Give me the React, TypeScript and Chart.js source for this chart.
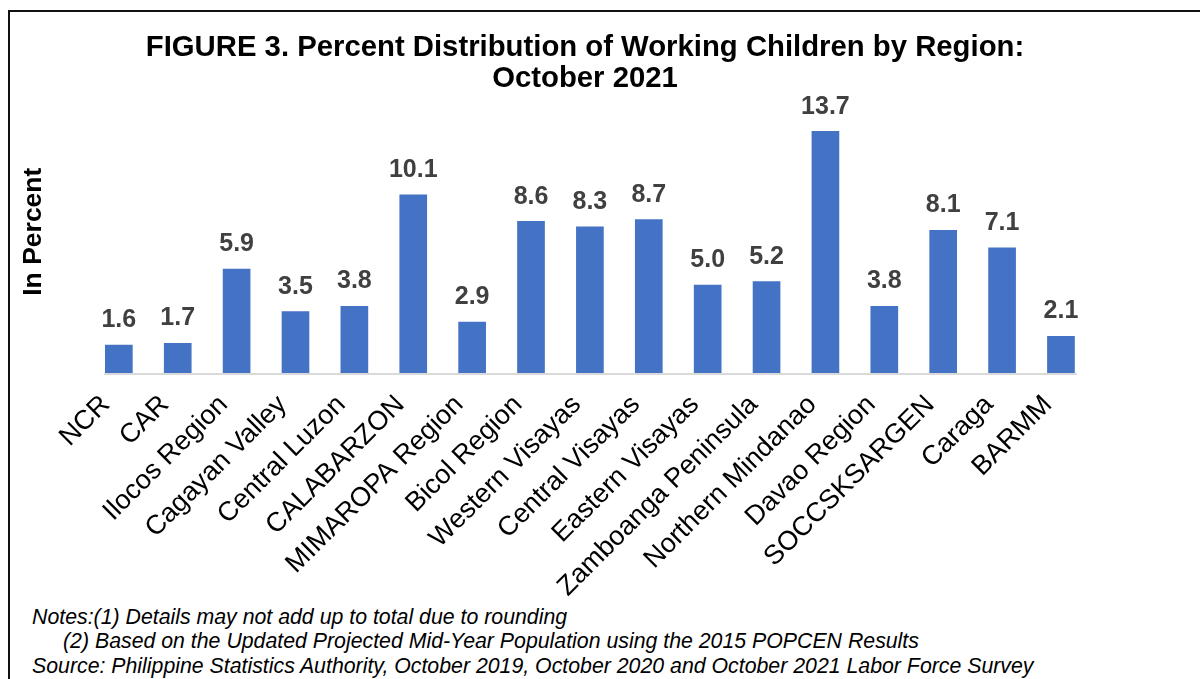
import React, { useEffect, useRef } from "react";
import { Chart, registerables } from "chart.js";

Chart.register(...registerables);

const categories: string[] = [
  "NCR",
  "CAR",
  "Ilocos Region",
  "Cagayan Valley",
  "Central Luzon",
  "CALABARZON",
  "MIMAROPA Region",
  "Bicol Region",
  "Western Visayas",
  "Central Visayas",
  "Eastern Visayas",
  "Zamboanga Peninsula",
  "Northern Mindanao",
  "Davao Region",
  "SOCCSKSARGEN",
  "Caraga",
  "BARMM",
];

const percentValues: number[] = [
  1.6, 1.7, 5.9, 3.5, 3.8, 10.1, 2.9, 8.6, 8.3, 8.7, 5.0, 5.2, 13.7, 3.8, 8.1, 7.1, 2.1,
];

const titleLines: string[] = [
  "FIGURE 3. Percent Distribution of Working Children by Region:",
  "October 2021",
];

const noteLines: string[] = [
  "Notes:(1) Details may not add up to total due to rounding",
  "(2) Based on the Updated Projected Mid-Year Population using the 2015 POPCEN Results",
  "Source: Philippine Statistics Authority, October 2019, October 2020 and October 2021 Labor Force Survey",
];

const FONT = "'Liberation Sans', Arial, Helvetica, sans-serif";
const CANVAS_W = 1170;
const CANVAS_H = 600;

const dataLabelPlugin = {
  id: "dataLabels",
  afterDatasetsDraw(chart: any) {
    const ctx = chart.ctx;
    const meta = chart.getDatasetMeta(0);
    ctx.save();
    ctx.font = `bold 25px ${FONT}`;
    ctx.fillStyle = "#404040";
    ctx.textAlign = "center";
    ctx.textBaseline = "alphabetic";
    meta.data.forEach((bar: any, i: number) => {
      const v = chart.data.datasets[0].data[i] as number;
      ctx.fillText(v.toFixed(1), bar.x, bar.y - 17.5);
    });
    ctx.restore();
  },
};

const baselinePlugin = {
  id: "baseline",
  afterDatasetsDraw(chart: any) {
    const ctx = chart.ctx;
    const meta = chart.getDatasetMeta(0);
    const first = meta.data[0];
    const last = meta.data[meta.data.length - 1];
    const y0 = chart.scales.y.getPixelForValue(0);
    ctx.save();
    ctx.strokeStyle = "#d9d9d9";
    ctx.lineWidth = 2;
    ctx.beginPath();
    ctx.moveTo(first.x - first.width / 2 - 1, y0 + 1);
    ctx.lineTo(last.x + last.width / 2 + 2, y0 + 1);
    ctx.stroke();
    ctx.restore();
  },
};

export default function App() {
  const canvasRef = useRef<HTMLCanvasElement | null>(null);

  useEffect(() => {
    if (!canvasRef.current) return;
    Chart.defaults.font.family = FONT;
    const chart = new Chart(canvasRef.current, {
      type: "bar",
      data: {
        labels: categories,
        datasets: [
          {
            data: percentValues,
            backgroundColor: "#4472C4",
            borderWidth: 0,
            categoryPercentage: 1,
            barPercentage: 0.47,
          },
        ],
      },
      options: {
        animation: false,
        responsive: false,
        devicePixelRatio: 1,
        layout: {
          padding: { left: 0, right: CANVAS_W - 1090.4, top: 90.4, bottom: 0 },
        },
        plugins: {
          legend: { display: false },
          tooltip: { enabled: false },
          title: { display: false },
        },
        scales: {
          x: {
            grid: { display: false },
            border: { display: false },
            ticks: {
              autoSkip: false,
              minRotation: 45,
              maxRotation: 45,
              color: "#000000",
              font: { family: FONT, size: 27 },
              padding: 8,
              labelOffset: -13,
            },
            afterFit: (scale: any) => {
              scale.height = CANVAS_H - 373;
            },
          },
          y: {
            min: 0,
            max: 16,
            grid: { display: false },
            border: { display: false },
            ticks: { display: false },
            title: {
              display: true,
              text: "In Percent",
              color: "#000000",
              font: { family: FONT, size: 26.5, weight: "bold" },
              padding: { top: 18, bottom: 0 },
            },
            afterFit: (scale: any) => {
              scale.width = 89.4;
            },
          },
        },
      },
      plugins: [baselinePlugin, dataLabelPlugin],
    });
    return () => chart.destroy();
  }, []);

  return (
    <div
      style={{
        position: "fixed",
        left: 0,
        top: 0,
        width: 1200,
        height: 679,
        overflow: "hidden",
        background: "#ffffff",
        fontFamily: FONT,
      }}
    >
      <div
        style={{
          position: "absolute",
          left: 8,
          top: 9.5,
          width: 1400,
          height: 900,
          borderLeft: "2px solid #111111",
          borderTop: "2px solid #111111",
        }}
      />
      <canvas
        ref={canvasRef}
        width={CANVAS_W}
        height={CANVAS_H}
        style={{ position: "absolute", left: 0, top: 0, width: CANVAS_W, height: CANVAS_H }}
      />
      <div
        style={{
          position: "absolute",
          left: 0,
          top: 29.5,
          width: CANVAS_W,
          textAlign: "center",
          fontWeight: "bold",
          fontSize: 29.3,
          lineHeight: "31.7px",
          color: "#000000",
        }}
      >
        {titleLines.map((t, i) => (
          <div key={i}>{t}</div>
        ))}
      </div>
      {noteLines.map((t, i) => (
        <div
          key={i}
          style={{
            position: "absolute",
            left: i === 1 ? 63 : 32,
            top: 604.5 + i * 24.5,
            fontStyle: "italic",
            fontSize: 21.3,
            lineHeight: "24px",
            color: "#000000",
            whiteSpace: "nowrap",
          }}
        >
          {t}
        </div>
      ))}
    </div>
  );
}
